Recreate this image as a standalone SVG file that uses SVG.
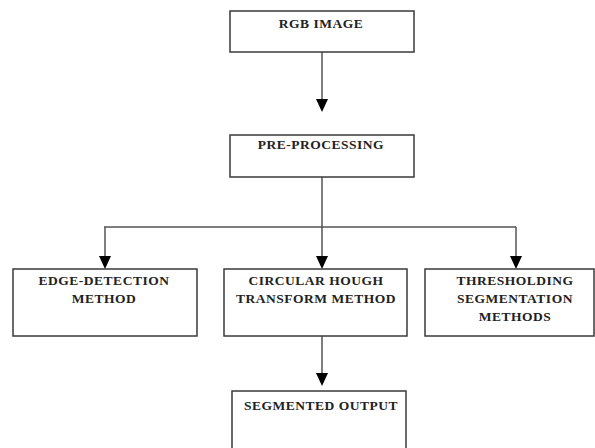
<svg xmlns="http://www.w3.org/2000/svg" width="595" height="448" viewBox="0 0 595 448">
<style>
.box{fill:#fff;stroke:#3a3a3a;stroke-width:1.5}
.t{font-family:"Liberation Serif","Times New Roman",serif;font-size:13.5px;font-weight:bold;fill:#222;text-anchor:middle;letter-spacing:0.5px}
.c{stroke:#555;stroke-width:1.5;fill:none}
</style>
<rect width="595" height="448" fill="#fff"/>
<g id="connectors">
<line class="c" x1="322" y1="52" x2="322" y2="99"/>
<path d="M316,99 L328,99 L322,112 Z" fill="#000"/>
<line class="c" x1="322" y1="177" x2="322" y2="227"/>
<line class="c" x1="104" y1="227" x2="516" y2="227"/>
<line class="c" x1="105" y1="227" x2="105" y2="256"/>
<path d="M99,256 L111,256 L105,269 Z" fill="#000"/>
<line class="c" x1="322" y1="227" x2="322" y2="256"/>
<path d="M316,256 L328,256 L322,269 Z" fill="#000"/>
<line class="c" x1="516" y1="227" x2="516" y2="256"/>
<path d="M510,256 L522,256 L516,269 Z" fill="#000"/>
<line class="c" x1="322" y1="336" x2="322" y2="373"/>
<path d="M316,373 L328,373 L322,386 Z" fill="#000"/>
</g>
<g id="rgb">
<rect class="box" x="230" y="11" width="184" height="41"/>
<text class="t" x="321" y="28">RGB IMAGE</text>
</g>
<g id="pre">
<rect class="box" x="230" y="135" width="184" height="42"/>
<text class="t" x="321" y="149">PRE-PROCESSING</text>
</g>
<g id="edge">
<rect class="box" x="13" y="269" width="184" height="67"/>
<text class="t" x="104" y="285">EDGE-DETECTION</text>
<text class="t" x="104" y="303">METHOD</text>
</g>
<g id="hough">
<rect class="box" x="224" y="269" width="183" height="67"/>
<text class="t" x="316" y="285">CIRCULAR HOUGH</text>
<text class="t" x="316" y="303">TRANSFORM METHOD</text>
</g>
<g id="thresh">
<rect class="box" x="425" y="269" width="169" height="67"/>
<text class="t" x="515" y="285">THRESHOLDING</text>
<text class="t" x="515" y="303">SEGMENTATION</text>
<text class="t" x="515" y="321">METHODS</text>
</g>
<g id="output">
<rect class="box" x="232" y="391" width="174" height="70"/>
<text class="t" x="321" y="410">SEGMENTED OUTPUT</text>
</g>
</svg>
